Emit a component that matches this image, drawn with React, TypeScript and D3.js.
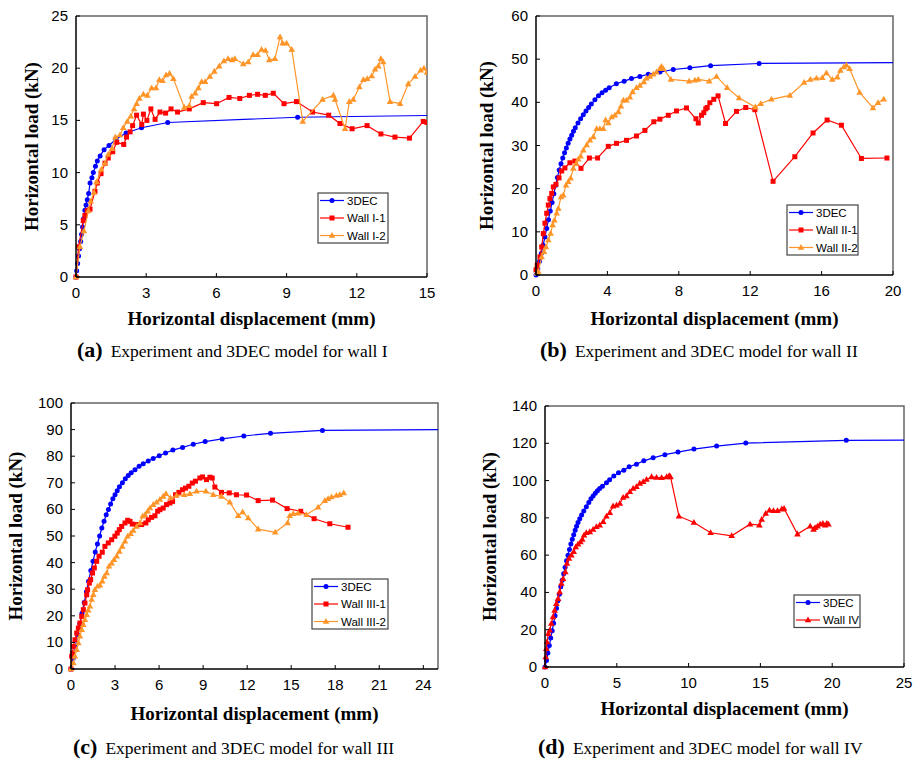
import React from 'react';
import * as d3 from 'd3';

// ---- data ----
type Pt = [number, number];

const dec3A: Pt[] = [[0,0],[0.03,0.6],[0.07,1.3],[0.11,2.0],[0.15,2.7],[0.2,3.4],[0.24,4.1],[0.28,4.8],[0.33,5.6],[0.38,6.4],[0.43,6.9],[0.48,7.4],[0.54,8.0],[0.6,9.0],[0.68,9.5],[0.74,10.0],[0.83,10.6],[0.91,11.1],[1.03,11.6],[1.2,12.2],[1.41,12.6],[1.71,13.2],[2.14,13.8],[2.8,14.3],[3.92,14.8],[9.47,15.3],[16,15.5]];
const wallI1: Pt[] = [[0,0],[0.11,2.9],[0.31,5.4],[0.38,5.9],[0.48,6.35],[0.6,6.5],[0.81,8.2],[0.91,9.0],[1.07,9.9],[1.24,10.9],[1.38,11.4],[1.57,12.0],[1.74,12.9],[2.04,12.7],[2.16,13.4],[2.31,13.9],[2.42,14.5],[2.59,15.5],[2.81,14.6],[2.88,15.6],[3.03,15.0],[3.2,16.1],[3.38,15.1],[3.59,15.8],[3.83,15.7],[4.06,16.1],[4.34,15.8],[4.84,16.1],[5.44,16.7],[6.01,16.6],[6.54,17.2],[7.0,17.1],[7.41,17.4],[7.76,17.5],[8.09,17.4],[8.43,17.6],[8.89,16.6],[9.42,16.8],[10.11,15.8],[10.8,15.5],[11.28,14.7],[11.8,14.2],[12.44,14.5],[13.03,13.7],[13.63,13.4],[14.25,13.3],[14.84,14.9],[15.0,14.8]];
const wallI2: Pt[] = [[0,0],[0.17,2.9],[0.34,4.4],[0.53,6.35],[0.63,7.25],[0.77,8.1],[0.88,9.1],[1.08,10.3],[1.24,10.9],[1.38,11.75],[1.54,12.3],[1.68,13.4],[1.88,13.6],[2.02,14.3],[2.19,14.9],[2.34,15.4],[2.48,16.1],[2.59,16.6],[2.71,17.1],[2.88,17.5],[3.05,17.4],[3.23,18.1],[3.42,18.1],[3.56,18.9],[3.7,18.8],[3.85,19.35],[4.0,19.5],[4.16,19.0],[4.63,16.25],[4.84,16.4],[4.94,17.3],[5.09,17.6],[5.23,18.1],[5.37,18.7],[5.52,18.7],[5.72,19.2],[5.91,19.7],[6.12,20.2],[6.32,20.7],[6.5,20.9],[6.67,20.8],[6.79,20.9],[7.15,20.4],[7.36,20.6],[7.57,21.3],[7.76,21.3],[7.93,21.8],[8.1,21.7],[8.26,20.8],[8.5,20.9],[8.72,23.0],[8.83,22.4],[9.0,22.4],[9.22,21.8],[9.69,14.9],[10.54,17.0],[11.0,17.4],[11.07,17.0],[11.5,14.2],[11.68,16.8],[11.85,17.0],[12.11,18.2],[12.28,18.9],[12.45,19.0],[12.64,19.25],[12.78,19.9],[12.92,20.2],[13.03,20.9],[13.13,20.6],[13.42,16.8],[13.85,16.6],[14.2,18.5],[14.49,19.2],[14.73,19.8],[14.87,20.0],[15.0,19.6]];

const dec3B: Pt[] = [[0,0],[0.1,1.5],[0.2,3.2],[0.3,5.0],[0.4,6.9],[0.5,8.8],[0.6,10.8],[0.7,12.8],[0.8,14.8],[0.9,16.8],[1.0,18.8],[1.1,20.8],[1.2,22.6],[1.3,24.3],[1.4,25.8],[1.5,27.1],[1.6,28.3],[1.7,29.4],[1.8,30.5],[1.9,31.5],[2.0,32.4],[2.1,33.3],[2.2,34.1],[2.35,35.2],[2.5,36.2],[2.65,37.1],[2.8,38.0],[2.95,38.8],[3.1,39.6],[3.3,40.6],[3.5,41.5],[3.7,42.2],[3.9,42.8],[4.1,43.4],[4.5,44.3],[4.94,44.9],[5.35,45.5],[5.82,46.0],[6.29,46.5],[6.94,47.0],[7.69,47.6],[8.62,48.0],[9.78,48.5],[12.5,49.0],[21,49.2]];
const wallII1: Pt[] = [[0,1.2],[0.07,2.3],[0.22,4.2],[0.32,6.5],[0.41,9.6],[0.5,12],[0.6,14.3],[0.69,16.2],[0.78,17.7],[0.88,18.9],[0.97,20.4],[1.12,21.0],[1.29,22.5],[1.44,24.1],[1.62,24.8],[1.9,26.0],[2.18,26.4],[2.52,24.7],[2.99,27.1],[3.45,27.1],[4.05,29.8],[4.51,30.5],[5.07,31.2],[5.63,32.2],[6.1,33.5],[6.6,35.5],[6.94,36.1],[7.41,37.0],[7.87,38.0],[8.43,38.7],[8.96,36.2],[9.09,35.2],[9.27,37.0],[9.4,37.6],[9.51,38.5],[9.59,38.8],[9.74,39.9],[9.96,40.7],[10.2,41.5],[10.62,35.1],[11.23,37.9],[11.75,38.8],[12.26,38.3],[13.28,21.7],[14.5,27.4],[15.52,32.9],[16.31,35.9],[17.11,34.7],[18.23,27.0],[19.66,27.1]];
const wallII2: Pt[] = [[0.04,0.4],[0.13,0.8],[0.32,4.2],[0.45,5.4],[0.56,6.5],[0.69,8.1],[0.82,9.6],[0.93,11.6],[1.03,12.7],[1.16,14.3],[1.25,15.4],[1.4,18.1],[1.53,18.5],[1.68,20.8],[1.81,21.6],[1.94,22.4],[2.09,24.7],[2.24,25.8],[2.37,26.8],[2.5,27.5],[2.65,28.9],[2.84,30.1],[3.02,31.2],[3.21,32.0],[3.4,33.9],[3.58,33.9],[3.77,33.9],[3.9,35.9],[4.05,35.2],[4.24,36.6],[4.42,37.0],[4.61,37.8],[4.76,39.1],[4.89,40.5],[5.07,40.5],[5.26,41.2],[5.41,42.4],[5.63,43.4],[5.82,43.9],[6.04,44.7],[6.19,45.6],[6.38,46.0],[6.57,46.5],[6.75,47.0],[6.94,47.8],[7.03,48.3],[7.13,47.8],[7.56,45.3],[8.58,44.9],[8.9,45.1],[9.09,45.3],[9.7,44.9],[10.11,46.0],[10.71,43.4],[11.38,41.0],[12.29,38.9],[12.59,39.7],[13.19,40.7],[14.22,41.6],[15.02,44.6],[15.37,45.3],[15.71,45.6],[16.04,45.7],[16.27,46.8],[16.6,45.3],[16.88,45.8],[17.05,47.4],[17.24,48.2],[17.39,48.6],[17.57,47.8],[18.13,42.3],[18.88,38.7],[19.16,39.9],[19.48,40.7]];

const dec3C: Pt[] = [[0,0],[0.15,4],[0.3,8.5],[0.45,13],[0.6,17],[0.75,21],[0.9,25],[1.05,29],[1.2,33],[1.35,37],[1.5,40.5],[1.65,44],[1.8,47],[1.95,50],[2.1,53],[2.25,55.5],[2.4,58],[2.55,60],[2.7,62],[2.85,64],[3.0,65.5],[3.15,67],[3.3,68.5],[3.5,70],[3.7,71.5],[3.9,72.7],[4.1,73.8],[4.36,74.9],[4.64,76.2],[4.92,77.2],[5.26,78.2],[5.6,79.1],[6.01,80.2],[6.44,81.2],[6.94,82.3],[7.6,83.3],[8.33,84.5],[9.14,85.5],[10.3,86.5],[11.77,87.6],[13.59,88.6],[17.13,89.7],[26,90]];
const wallIII1: Pt[] = [[0,0],[0.05,4.8],[0.11,6],[0.16,8.5],[0.27,11],[0.39,13.5],[0.5,15.4],[0.61,17.3],[0.73,19.8],[0.84,22.3],[0.95,24.8],[1.07,27.9],[1.13,29.8],[1.25,32.3],[1.34,33.6],[1.47,36.1],[1.59,38],[1.75,40.5],[1.91,42.4],[2.13,43.9],[2.31,46.1],[2.54,47.4],[2.77,48.6],[2.99,49.9],[3.15,51.1],[3.29,52.4],[3.45,53.6],[3.68,54.9],[3.86,55.9],[4.02,55.5],[4.17,54.5],[4.47,54.3],[4.81,54.3],[5.1,54.9],[5.26,56.1],[5.49,57.0],[5.72,57.6],[5.9,59.3],[6.06,59.9],[6.28,60.5],[6.51,61.8],[6.74,62.4],[6.92,63.0],[7.12,65.5],[7.35,66.4],[7.6,67.4],[7.8,68.0],[8.03,68.7],[8.26,69.9],[8.48,70.6],[8.78,71.8],[8.96,72.2],[9.23,71.2],[9.46,72.1],[9.62,71.8],[9.8,68.4],[10.25,66.4],[10.78,66.2],[11.27,65.5],[11.96,65.4],[12.75,63.3],[13.73,63.5],[14.72,60.3],[15.65,59.3],[16.56,56.5],[17.63,54.6],[18.87,53.3]];
const wallIII2: Pt[] = [[0,0],[0.16,2.3],[0.27,4.8],[0.39,7.3],[0.5,9.8],[0.61,12.3],[0.73,14.8],[0.84,16.7],[0.95,18.5],[1.07,20.4],[1.18,22.1],[1.29,23.6],[1.41,26.1],[1.52,27.9],[1.63,29.8],[1.81,31.1],[1.97,31.5],[2.13,33],[2.27,34.8],[2.43,36.1],[2.59,38.6],[2.77,39.8],[2.93,41.1],[3.11,42.4],[3.29,44.2],[3.49,46.1],[3.68,48.0],[3.86,49.9],[4.06,50.9],[4.24,52.1],[4.47,53.6],[4.7,54.9],[4.88,57.4],[5.04,58.0],[5.22,59.3],[5.38,60.5],[5.6,61.8],[5.83,62.7],[6.06,63.7],[6.28,64.9],[6.47,65.9],[6.78,64.3],[7.19,65.2],[7.71,65.5],[8.1,65.9],[8.55,66.8],[9.19,66.8],[9.69,65.5],[10.25,64.9],[10.82,62.7],[11.39,57.6],[11.69,59.0],[12.07,56.8],[12.75,52.6],[13.91,51.4],[14.75,54.9],[14.9,57.6],[15.13,58.4],[15.47,58.6],[16.04,58.0],[16.83,60.8],[17.29,63.3],[17.51,64.0],[17.74,64.7],[18.08,65.2],[18.31,65.5],[18.58,66.2]];

const dec3D: Pt[] = [[0,0],[0.1,3.5],[0.2,7.5],[0.3,11.5],[0.4,15.5],[0.5,19.5],[0.6,23.5],[0.7,27.5],[0.8,31.5],[0.9,35.5],[1.0,39],[1.1,43],[1.2,46.5],[1.3,50],[1.4,53.5],[1.5,57],[1.6,60],[1.7,63],[1.8,66],[1.9,68.5],[2.0,71],[2.1,73.3],[2.2,75.5],[2.3,77.5],[2.42,79.5],[2.55,81.5],[2.7,83.7],[2.88,86],[3.05,88.3],[3.2,90.2],[3.35,91.7],[3.5,93.2],[3.65,94.5],[3.81,95.8],[4.0,97],[4.28,98.8],[4.5,100.5],[4.79,102.4],[5.12,104.2],[5.49,105.6],[5.86,107.4],[6.37,108.8],[6.88,110.6],[7.53,112.2],[8.35,113.9],[9.26,115.3],[10.37,116.9],[11.95,118.5],[13.98,120.1],[20.98,121.6],[26,121.7]];
const wallIV: Pt[] = [[0,0],[0.05,5.4],[0.09,9.8],[0.14,13.4],[0.23,17.9],[0.33,19.7],[0.44,23.3],[0.56,26.9],[0.67,30.4],[0.79,34],[0.91,36.7],[1.02,40.3],[1.14,44.8],[1.26,47.4],[1.42,51],[1.53,55.5],[1.67,58.2],[1.84,60],[2.0,61.8],[2.14,64.4],[2.3,65.9],[2.47,67.1],[2.6,68.4],[2.72,70.7],[2.88,72.0],[3.12,72.5],[3.35,73.8],[3.58,75.2],[3.81,76.1],[4.05,77.9],[4.28,80.9],[4.51,82.7],[4.74,86.3],[4.98,86.8],[5.21,87.7],[5.44,90.9],[5.67,91.7],[5.91,94.0],[6.14,95.8],[6.37,96.7],[6.6,98.5],[6.84,99.4],[7.07,100.6],[7.42,102.0],[7.77,101.7],[8.12,101.5],[8.47,102.0],[8.65,102.6],[8.74,102.0],[9.33,80.9],[10.37,77.5],[11.53,72.0],[13.0,70.4],[14.28,76.6],[14.93,76.1],[15.09,79.1],[15.37,82.3],[15.63,84.1],[15.91,83.8],[16.19,83.8],[16.49,84.7],[16.65,85.0],[17.58,71.3],[18.47,75.5],[18.7,73.8],[18.81,74.7],[18.98,75.5],[19.16,76.6],[19.35,77.0],[19.51,76.1],[19.63,77.0],[19.74,76.6]];

const ticksA_x = [0, 3, 6, 9, 12, 15];
const ticksA_y = [0, 5, 10, 15, 20, 25];
const ticksB_x = [0, 4, 8, 12, 16, 20];
const ticksB_y = [0, 10, 20, 30, 40, 50, 60];
const ticksC_x = [0, 3, 6, 9, 12, 15, 18, 21, 24];
const ticksC_y = [0, 10, 20, 30, 40, 50, 60, 70, 80, 90, 100];
const ticksD_x = [0, 5, 10, 15, 20, 25];
const ticksD_y = [0, 20, 40, 60, 80, 100, 120, 140];

const BLUE = '#0000ff';
const RED = '#ff0000';
const ORANGE = '#ff9529';

const SANS = 'Liberation Sans, Arial';
const SERIF = 'Liberation Serif, Times New Roman';

type Shape = 'circle' | 'square' | 'triangle';
interface Series { name: string; color: string; shape: Shape; pts: Pt[] }

const Marker = ({ shape, x, y, color }: { shape: Shape; x: number; y: number; color: string }) => {
  if (shape === 'circle') return <circle cx={x} cy={y} r={2.5} fill={color} />;
  if (shape === 'square') return <rect x={x - 2.5} y={y - 2.5} width={5} height={5} fill={color} />;
  return <path d={`M${x},${y - 3.5}L${x + 3.3},${y + 2.3}L${x - 3.3},${y + 2.3}Z`} fill={color} />;
};

interface PanelProps {
  id: string;
  left: number; right: number; top: number; bottom: number;
  xMax: number; yMax: number;
  xTicks: number[]; yTicks: number[];
  series: Series[];
  legend: { x: number; y: number; w: number };
  yTitleX: number;
  xTitleY: number;
  caption: { letter: string; text: string; x: number; y: number };
}

const Panel = (p: PanelProps) => {
  const x = d3.scaleLinear().domain([0, p.xMax]).range([p.left, p.right]);
  const y = d3.scaleLinear().domain([0, p.yMax]).range([p.bottom, p.top]);
  const line = d3.line<Pt>().x(d => x(d[0])).y(d => y(d[1]));
  const clipId = `clip-${p.id}`;
  const rowH = 17.5;
  const legH = 15 + (p.series.length - 1) * rowH;
  return (
    <g>
      <defs>
        <clipPath id={clipId}>
          <rect x={p.left - 4} y={p.top - 4} width={p.right - p.left + 4} height={p.bottom - p.top + 8} />
        </clipPath>
      </defs>
      {/* frame: grey top/right, black axes */}
      <path d={`M${p.left},${p.top}H${p.right}V${p.bottom}`} fill="none" stroke="#666" strokeWidth={1.5} />
      <g clipPath={`url(#${clipId})`}>
        {p.series.map(s => (
          <g key={s.name}>
            <path d={line(s.pts) || ''} fill="none" stroke={s.color} strokeWidth={1.2} />
            {s.pts.map((d, i) => (
              <Marker key={i} shape={s.shape} x={x(d[0])} y={y(d[1])} color={s.color} />
            ))}
          </g>
        ))}
      </g>
      <line x1={p.left} x2={p.left} y1={p.top} y2={p.bottom} stroke="#000" strokeWidth={1.5} />
      <line x1={p.left} x2={p.right} y1={p.bottom} y2={p.bottom} stroke="#000" strokeWidth={1.5} />
      {p.xTicks.map(t => (
        <g key={`x${t}`}>
          <line x1={x(t)} x2={x(t)} y1={p.bottom} y2={p.bottom - 4} stroke="#000" strokeWidth={1} />
          <text x={x(t)} y={p.bottom + 21} textAnchor="middle" fontFamily={SANS} fontSize={15}>{t}</text>
        </g>
      ))}
      {p.yTicks.map(t => (
        <g key={`y${t}`}>
          <line x1={p.left} x2={p.left + 4} y1={y(t)} y2={y(t)} stroke="#000" strokeWidth={1} />
          <text x={p.left - 8} y={y(t) + 5} textAnchor="end" fontFamily={SANS} fontSize={15}>{t}</text>
        </g>
      ))}
      <text x={(p.left + p.right) / 2} y={p.xTitleY} textAnchor="middle" fontFamily={SERIF} fontWeight="bold" fontSize={19}>
        Horizontal displacement (mm)
      </text>
      <text transform={`translate(${p.yTitleX},${(p.top + p.bottom) / 2}) rotate(-90)`} textAnchor="middle"
        fontFamily={SERIF} fontWeight="bold" fontSize={19}>
        Horizontal load (kN)
      </text>
      {/* legend */}
      <g transform={`translate(${p.legend.x},${p.legend.y})`}>
        <rect width={p.legend.w} height={legH} fill="#fff" stroke="#444" strokeWidth={1.2} />
        {p.series.map((s, i) => {
          const cy = 7.5 + i * rowH;
          return (
            <g key={s.name}>
              <line x1={2} x2={26} y1={cy} y2={cy} stroke={s.color} strokeWidth={1.2} />
              <Marker shape={s.shape} x={14} y={cy} color={s.color} />
              <text x={29} y={cy + 4.2} fontFamily={SANS} fontSize={11.5}>{s.name}</text>
            </g>
          );
        })}
      </g>
      <text x={p.caption.x} y={p.caption.y} fontFamily={SERIF} fontSize={17.5}>
        <tspan fontWeight="bold" fontSize={22}>({p.caption.letter})</tspan>
        <tspan dx={8}>{p.caption.text}</tspan>
      </text>
    </g>
  );
};

const App = () => {
  return (
    <div style={{ position: 'absolute', left: 0, top: 0 }}>
      <svg width={920} height={761} style={{ display: 'block', background: '#fff' }}>
        <Panel id="a" left={76} right={427} top={16} bottom={277} xMax={15} yMax={25}
          xTicks={ticksA_x} yTicks={ticksA_y}
          series={[
            { name: '3DEC', color: BLUE, shape: 'circle', pts: dec3A },
            { name: 'Wall I-1', color: RED, shape: 'square', pts: wallI1 },
            { name: 'Wall I-2', color: ORANGE, shape: 'triangle', pts: wallI2 },
          ]}
          legend={{ x: 318, y: 193, w: 70 }} yTitleX={38} xTitleY={325}
          caption={{ letter: 'a', text: 'Experiment and 3DEC model for wall I', x: 77, y: 357 }} />
        <Panel id="b" left={536} right={893} top={16} bottom={275} xMax={20} yMax={60}
          xTicks={ticksB_x} yTicks={ticksB_y}
          series={[
            { name: '3DEC', color: BLUE, shape: 'circle', pts: dec3B },
            { name: 'Wall II-1', color: RED, shape: 'square', pts: wallII1 },
            { name: 'Wall II-2', color: ORANGE, shape: 'triangle', pts: wallII2 },
          ]}
          legend={{ x: 787, y: 205, w: 71 }} yTitleX={493} xTitleY={325}
          caption={{ letter: 'b', text: 'Experiment and 3DEC model for wall II', x: 540, y: 357 }} />
        <Panel id="c" left={71} right={438} top={403} bottom={669} xMax={25} yMax={100}
          xTicks={ticksC_x} yTicks={ticksC_y}
          series={[
            { name: '3DEC', color: BLUE, shape: 'circle', pts: dec3C },
            { name: 'Wall III-1', color: RED, shape: 'square', pts: wallIII1 },
            { name: 'Wall III-2', color: ORANGE, shape: 'triangle', pts: wallIII2 },
          ]}
          legend={{ x: 312, y: 579, w: 76 }} yTitleX={22} xTitleY={720}
          caption={{ letter: 'c', text: 'Experiment and 3DEC model for wall III', x: 73, y: 754 }} />
        <Panel id="d" left={545} right={904} top={406} bottom={667} xMax={25} yMax={140}
          xTicks={ticksD_x} yTicks={ticksD_y}
          series={[
            { name: '3DEC', color: BLUE, shape: 'circle', pts: dec3D },
            { name: 'Wall IV', color: RED, shape: 'triangle', pts: wallIV },
          ]}
          legend={{ x: 794, y: 595, w: 66 }} yTitleX={496} xTitleY={715}
          caption={{ letter: 'd', text: 'Experiment and 3DEC model for wall IV', x: 538, y: 754 }} />
      </svg>
    </div>
  );
};

export default App;
